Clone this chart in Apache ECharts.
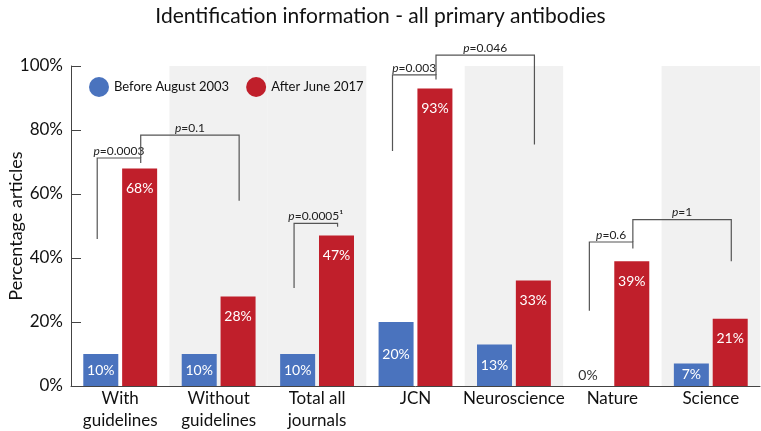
<!DOCTYPE html>
<html>
<head>
<meta charset="utf-8">
<script src="https://cdn.jsdelivr.net/npm/echarts@6/dist/echarts.min.js"></script>
<style>html,body{margin:0;padding:0;background:#fff}#c{width:761px;height:431px}</style>
</head>
<body>
<div id="c"></div>
<script>
var categories = ['With\nguidelines', 'Without\nguidelines', 'Total all\njournals', 'JCN', 'Neuroscience', 'Nature', 'Science'];
var before = [10, 10, 10, 20, 13, 0, 7];
var after = [68, 28, 47, 93, 33, 39, 21];
var shaded = [null, 100, 100, null, 100, null, 100];
var yTicks = [0, 20, 40, 60, 80, 100];
// bracket: [leftCategory, leftBar(0=before,1=after), rightCategory, rightBar, leftEnd%, rightEnd%, top%]
var brackets = [
  [0, 0, 0, 1, 45.9, 69.7, 71.25],
  [0, 1, 1, 1, 71.25, 57.9, 78.4],
  [2, 0, 2, 1, 30.6, 49.8, 50.8],
  [3, 0, 3, 1, 73.4, 95.8, 97.2],
  [3, 1, 4, 1, 97.2, 75.5, 103.4],
  [5, 0, 5, 1, 23.5, 43, 45],
  [5, 1, 6, 1, 45, 39, 52]
];
var bracketLabels = ['p=0.0003', 'p=0.1', 'p=0.0005\u00b9', 'p=0.003', 'p=0.046', 'p=0.6', 'p=1'];

var FONT = 'Lato';
var BLUE = '#4a73be';
var RED = '#c01f2b';

function barData(vals) {
  return vals.map(function (v) {
    var lab;
    if (v === 0) {
      lab = { show: true, position: 'top', distance: 4, color: '#333', offset: [-5, 0] };
    } else if (v <= 20) {
      lab = { show: true, position: 'inside' };
    } else {
      lab = { show: true, position: 'insideTop', distance: 13 };
    }
    return { value: v, label: lab };
  });
}

var chart = echarts.init(document.getElementById('c'), null, { renderer: 'canvas' });
var option = {
  animation: false,
  textStyle: { fontFamily: FONT },
  title: {
    text: 'Identification information - all primary antibodies',
    left: 'center', top: 1,
    textStyle: { fontFamily: FONT, fontSize: 21, fontWeight: 'normal', color: '#111' }
  },
  legend: {
    data: ['Before August 2003', 'After June 2017'],
    left: 89, top: 77, padding: 0,
    icon: 'circle', itemWidth: 20, itemHeight: 20, itemGap: 17,
    textStyle: { fontFamily: FONT, fontSize: 13, color: '#111' }
  },
  grid: { left: 71, right: 1, top: 66, bottom: 45, containLabel: false, outerBoundsMode: 'none' },
  xAxis: [{
    type: 'category', data: categories,
    axisLine: { lineStyle: { color: '#444', width: 1 } },
    axisTick: { inside: true, length: 7, lineStyle: { color: '#444' } },
    axisLabel: { fontFamily: FONT, fontSize: 17, lineHeight: 22, color: '#111', margin: 2, interval: 0 }
  }, {
    type: 'category', data: categories, show: false
  }],
  yAxis: {
    type: 'value', min: 0, max: 100, interval: 20,
    name: 'Percentage articles', nameLocation: 'middle', nameGap: 46, nameMoveOverlap: false,
    nameTextStyle: { fontFamily: FONT, fontSize: 18, color: '#111' },
    axisLine: { show: true, lineStyle: { color: '#444', width: 1 } },
    axisTick: { show: true, inside: true, length: 10, lineStyle: { color: '#444' } },
    axisLabel: { fontFamily: FONT, fontSize: 17, color: '#111', margin: 8, formatter: '{value}%' },
    splitLine: { show: false }
  },
  series: [{
    type: 'bar', xAxisIndex: 1, data: shaded, barWidth: '100%', silent: true, z: 0,
    itemStyle: { color: '#f1f1f1' }, legendHoverLink: false
  }, {
    name: 'Before August 2003', type: 'bar', data: barData(before),
    barWidth: 35, barGap: '11%', itemStyle: { color: BLUE }, z: 2,
    label: { color: '#fff', fontFamily: FONT, fontSize: 14, formatter: '{c}%' }
  }, {
    name: 'After June 2017', type: 'bar', data: barData(after),
    barWidth: 35, barGap: '11%', itemStyle: { color: RED }, z: 2,
    label: { color: '#fff', fontFamily: FONT, fontSize: 14, formatter: '{c}%' }
  }, {
    type: 'custom', silent: true, z: 5, clip: false,
    encode: { x: 0, y: 6 },
    data: brackets,
    renderItem: function (params, api) {
      function px(cat, bar) {
        var c = api.coord([cat, 0])[0];
        return bar === 0 ? c - 23 : c + 20.5;
      }
      var xl = px(api.value(0), api.value(1));
      var xr = px(api.value(2), api.value(3));
      var yl = api.coord([0, api.value(4)])[1];
      var yr = api.coord([0, api.value(5)])[1];
      var yt = api.coord([0, api.value(6)])[1];
      var txt = bracketLabels[params.dataIndex].replace(/^p/, '{i|p}');
      return {
        type: 'group',
        children: [{
          type: 'polyline',
          shape: { points: [[xl, yl], [xl, yt], [xr, yt], [xr, yr]] },
          style: { stroke: '#555', lineWidth: 1.2, fill: null }
        }, {
          type: 'text',
          style: {
            text: txt, x: (xl + xr) / 2, y: yt - 1,
            align: 'center', verticalAlign: 'bottom',
            fontFamily: FONT, fontSize: 12, fill: '#222',
            rich: { i: { fontStyle: 'italic', fontFamily: FONT, fontSize: 12, fill: '#222' } }
          }
        }]
      };
    }
  }]
};
chart.setOption(option);
</script>
</body>
</html>
